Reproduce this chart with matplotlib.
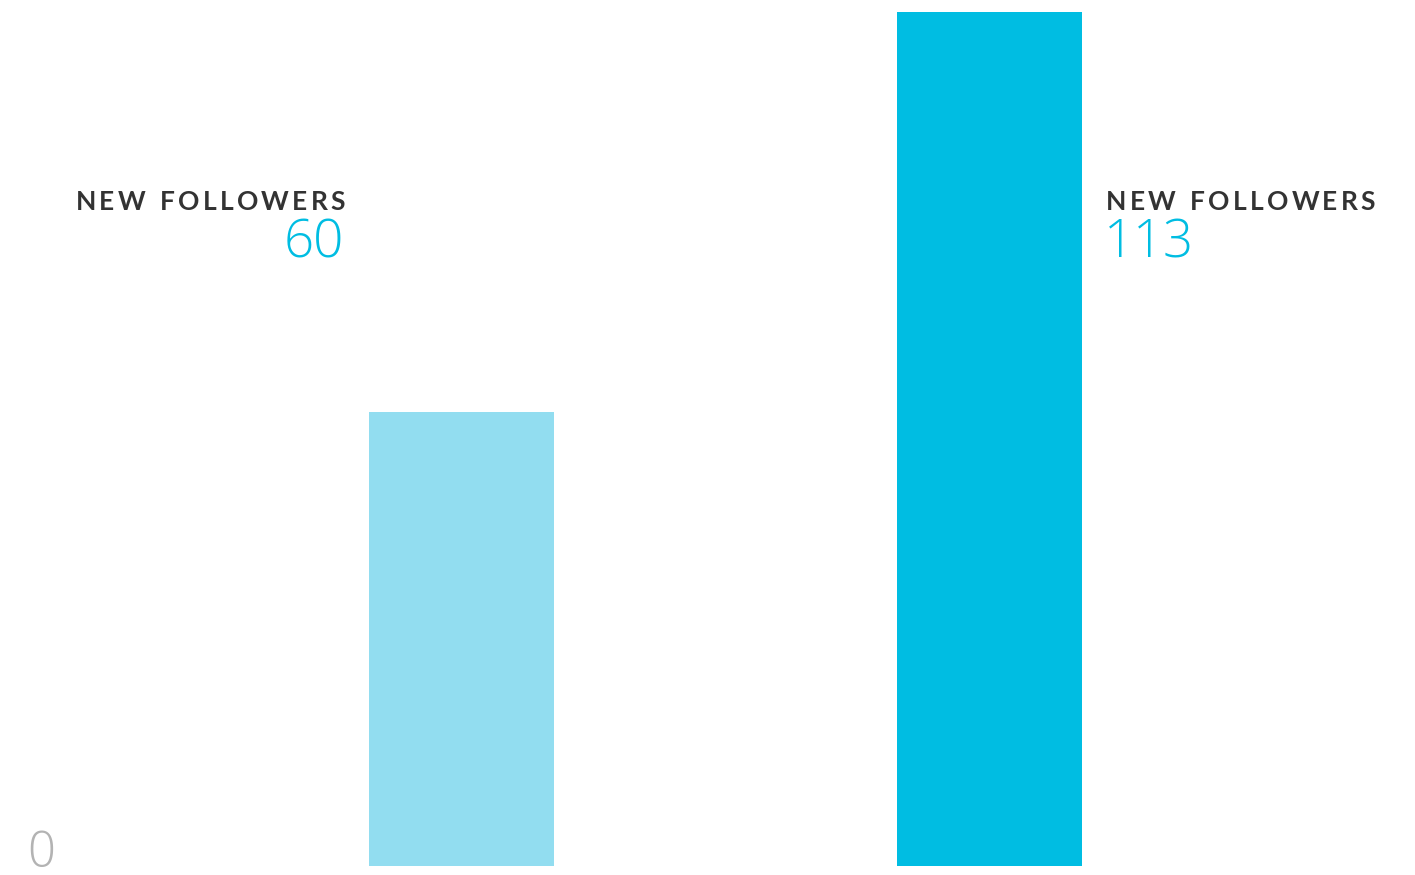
import matplotlib
matplotlib.use("Agg")
import matplotlib.pyplot as plt

# two periods compared side by side
periods = ["previous", "current"]
followers = [60, 113]
bar_colors = ["#92ddf0", "#00bde2"]
label_text = "NEW FOLLOWERS"

fig = plt.figure(figsize=(14.15, 8.75), dpi=100)
ax = fig.add_axes([0, 0, 1, 1])

ax.bar(range(len(periods)), followers, width=0.35, color=bar_colors)
ax.set_xlim(-0.874, 1.806)
ax.set_ylim(-1.19, 114.55)
ax.axis("off")

renderer = fig.canvas.get_renderer()


def tracked_text(x_px, y_px, s, ha, spacing, **kw):
    """Draw text letter by letter with extra spacing (pixels from bottom-left)."""
    widths = []
    for ch in s:
        t = fig.text(0, 0, ch if ch != " " else "n", **kw)
        w = t.get_window_extent(renderer).width
        if ch == " ":
            w *= 0.55
        widths.append(w)
        t.remove()
    total = sum(widths) + spacing * (len(s) - 1)
    x = x_px - total if ha == "right" else x_px
    for ch, w in zip(s, widths):
        if ch != " ":
            fig.text(x / 1415, y_px / 875, ch, ha="left", va="baseline", **kw)
        x += w + spacing


label_style = dict(fontsize=19, color="#333333", family="Lato", fontweight="bold")
num_style = dict(fontsize=38, color="#00bde2", family="Open Sans", fontweight="light")

# zero marker at the baseline
fig.text(27 / 1415, 8 / 875, "0", ha="left", va="baseline",
         fontsize=35, color="#b3b3b3", family="Open Sans", fontweight="light")

# captions: left one right-aligned, right one left-aligned
tracked_text(345, 875 - 210, label_text, "right", 3.2, **label_style)
fig.text(344 / 1415, (875 - 258) / 875, str(followers[0]),
         ha="right", va="baseline", **num_style)

tracked_text(1106, 875 - 210, label_text, "left", 3.2, **label_style)
fig.text(1104 / 1415, (875 - 258) / 875, str(followers[1]),
         ha="left", va="baseline", **num_style)

fig.savefig("out.png", dpi=100)
